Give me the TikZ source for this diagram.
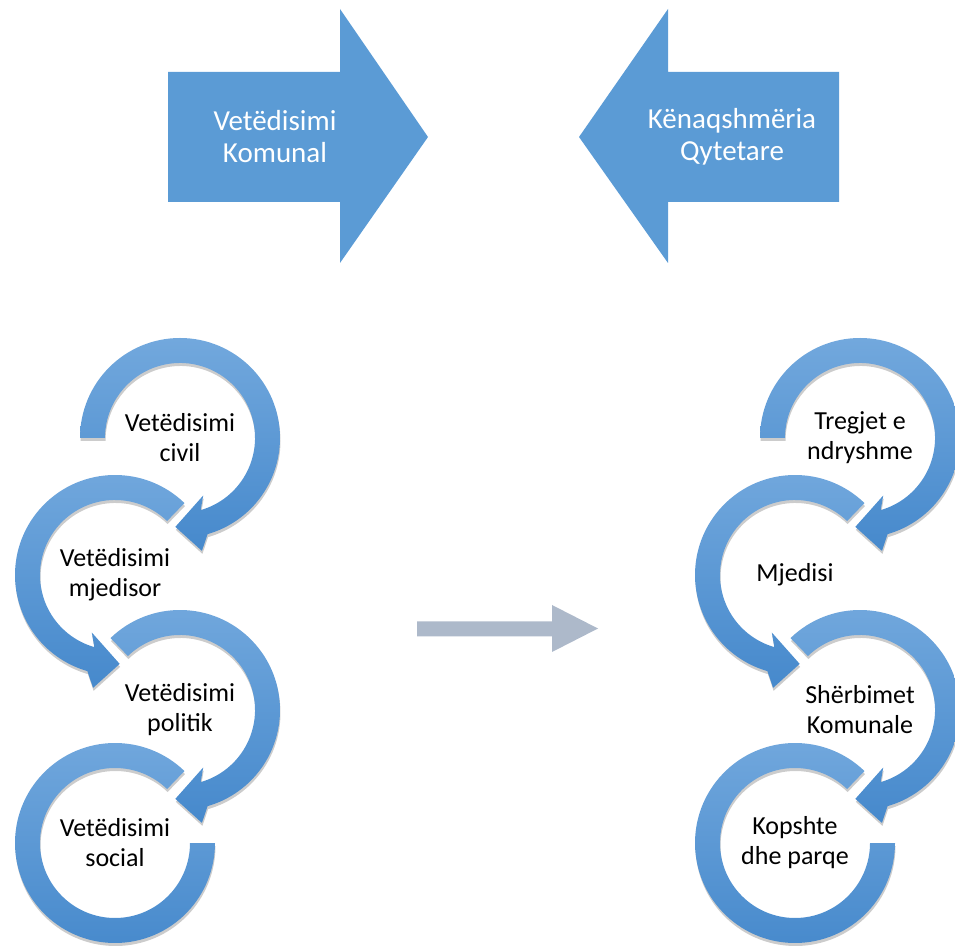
\documentclass[tikz,border=0pt]{standalone}
\usepackage{fontspec}
\setmainfont{Carlito}
\usetikzlibrary{shadows}
\definecolor{topblue}{HTML}{5B9BD5}
\definecolor{ringtop}{HTML}{72A8DD}
\definecolor{ringbottom}{HTML}{4689CC}
\definecolor{midgrey}{HTML}{ADB9CA}
\tikzset{
    bigarrow/.style={
        fill=topblue, % 顶部箭头颜色
        draw=none
    },
    ringarrow/.style={
        top color=ringtop, % 上浅
        bottom color=ringbottom, % 下深
        draw=none,
        drop shadow={opacity=0.2, shadow xshift=0.5pt, shadow yshift=-3pt, fill=black}
    },
    toptext/.style={
        text=white,
        align=center,
        font=\fontsize{29}{32}\selectfont
    },
    ringtext/.style={
        text=black,
        align=center,
        font=\fontsize{26}{30}\selectfont
    }
}
% 圆形箭头: 中心, 起始角, 终止角, 方向(+1 逆时针, -1 顺时针)
\newcommand\loopring[4]{%
    \begin{scope}[shift={#1}]
        \pgfmathsetmacro\wingout{#3+5*#4}
        \pgfmathsetmacro\wingin{#3-6*#4}
        \pgfmathsetmacro\tipang{#3+19*#4}
        \path[ringarrow] (#2:100pt) arc[start angle=#2, end angle=#3, radius=100pt]
            -- (\wingout:115pt) -- (\tipang:89pt) -- (\wingin:62pt) -- (#3:75pt)
            arc[start angle=#3, end angle=#2, radius=75pt] -- cycle;
    \end{scope}}

\begin{document}
\begin{tikzpicture}[x=1pt, y=1pt]
    \useasboundingbox (0,0) rectangle (955,945);
    % 顶部两个箭头
    \path[bigarrow] (168,873) -- (340,873) -- (340,936) -- (428,808)
        -- (340,682) -- (340,743) -- (168,743) -- cycle;
    \path[bigarrow] (839,873) -- (668,873) -- (668,936) -- (579,808)
        -- (668,682) -- (668,743) -- (839,743) -- cycle;
    \node[toptext] (komunal) at (275,808) {Vetëdisimi\\Komunal};
    \node[toptext] (qytetare) at (732,808) {Kënaqshmëria\\Qytetare};

    % 中间箭头
    \path[fill=midgrey] (417,323.5) -- (552,323.5) -- (552,340) -- (598,316.5)
        -- (552,293) -- (552,308.5) -- (417,308.5) -- cycle;

    % 左列
    \loopring{(180,507)}{180}{-74}{-1}
    \loopring{(115,370)}{46}{254}{1}
    \loopring{(180,235)}{134}{-74}{-1}
    \begin{scope}[shift={(115,102)}]
        \path[ringarrow] (46:100pt) arc[start angle=46, end angle=360, radius=100pt]
            -- (0:75pt) arc[start angle=360, end angle=46, radius=75pt] -- cycle;
    \end{scope}
    \node[ringtext] (civil) at (180,507) {Vetëdisimi\\civil};
    \node[ringtext] (mjedisor) at (115,370) {Vetëdisimi\\mjedisor};
    \node[ringtext] (politik) at (180,235) {Vetëdisimi\\politik};
    \node[ringtext] (social) at (115,102) {Vetëdisimi\\social};

    % 右列
    \loopring{(860,507)}{180}{-74}{-1}
    \loopring{(795,370)}{46}{254}{1}
    \loopring{(860,235)}{134}{-74}{-1}
    \begin{scope}[shift={(795,102)}]
        \path[ringarrow] (46:100pt) arc[start angle=46, end angle=360, radius=100pt]
            -- (0:75pt) arc[start angle=360, end angle=46, radius=75pt] -- cycle;
    \end{scope}
    \node[ringtext] (tregjet) at (860,507) {Tregjet e\\ndryshme};
    \node[ringtext] (mjedisi) at (795,370) {Mjedisi};
    \node[ringtext] (sherbimet) at (860,235) {Shërbimet\\Komunale};
    \node[ringtext] (kopshte) at (795,102) {Kopshte\\dhe parqe};
\end{tikzpicture}
\end{document}
